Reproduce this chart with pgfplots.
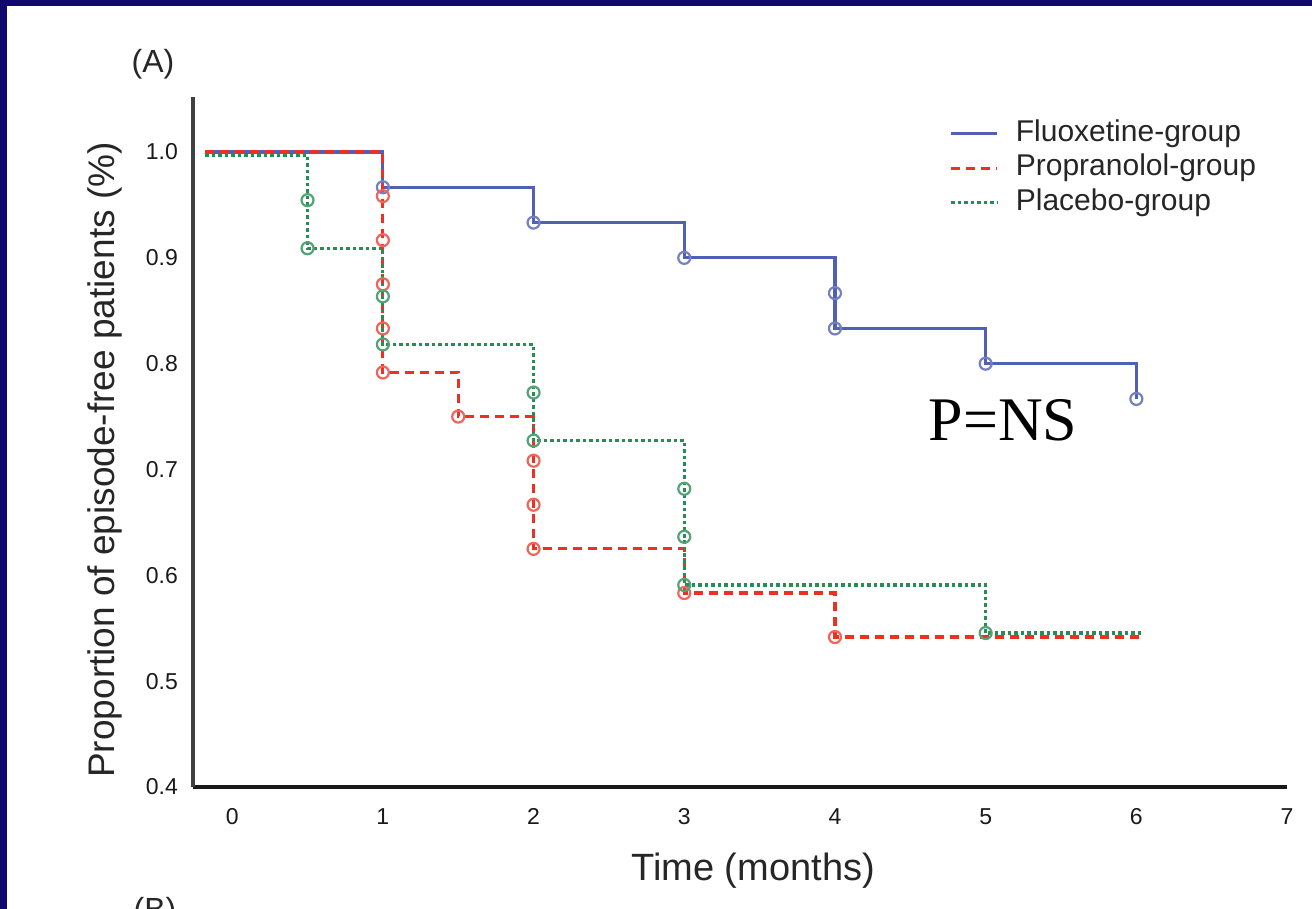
\documentclass[border=0pt]{standalone}
\usepackage{pgfplots}
\pgfplotsset{compat=1.18}
\usepackage{fontspec}
\setmainfont{Liberation Sans}
\newfontfamily\timesfont{Liberation Serif}
\definecolor{navy}{RGB}{17,8,110}
\definecolor{kmblue}{RGB}{80,96,178}
\definecolor{kmred}{RGB}{238,48,34}
\definecolor{kmgreen}{RGB}{40,140,85}
\begin{document}
\begin{tikzpicture}
\useasboundingbox (0bp,0bp) rectangle (1312bp,909bp);
\fill[navy] (0bp,0bp) rectangle (1312bp,909bp);
\fill[white] (7bp,0bp) rectangle (1312bp,903bp);
\begin{scope}
\clip (0bp,0bp) rectangle (1312bp,909bp);
\node[font=\fontsize{32bp}{38bp}\selectfont, text=black!85, inner sep=0pt] at (153bp,845bp) {(A)};
\node[font=\fontsize{32bp}{38bp}\selectfont, text=black!85, inner sep=0pt, anchor=north] at (155bp,12bp) {(B)};
\begin{axis}[
  at={(193bp,122bp)}, anchor=south west,
  scale only axis, width=1094bp, height=690bp,
  xmin=-0.26, xmax=7, ymin=0.4, ymax=1.052,
  axis x line*=bottom, axis y line*=left,
  x axis line style={line width=4bp, black!90, -},
  y axis line style={line width=4bp, black!75, -},
  major tick length=0pt,
  xtick={0,1,2,3,4,5,6,7},
  ytick={0.4,0.5,0.6,0.7,0.8,0.9,1.0},
  yticklabels={0.4,0.5,0.6,0.7,0.8,0.9,1.0},
  tick label style={font=\fontsize{23bp}{27bp}\selectfont, text=black!90},
  /pgf/number format/assume math mode=true,
  xticklabel style={anchor=north, inner sep=0pt, yshift=-21bp},
  yticklabel style={anchor=east, inner sep=0pt, xshift=-15bp},
  xlabel={Time (months)},
  ylabel={Proportion of episode-free patients (\%)},
  xlabel style={at={(axis description cs:0.512,-0.1348)}, anchor=base, font=\fontsize{38bp}{44bp}\selectfont, text=black!85},
  ylabel style={at={(axis description cs:-0.0804,0.474)}, anchor=center, font=\fontsize{37bp}{44bp}\selectfont, text=black!85},
  clip=false,
  legend style={at={(axis cs:4.74,1.033)}, anchor=north west, draw=none, fill=none,
    font=\fontsize{30bp}{34bp}\selectfont, text=black!85, row sep=5.5bp,
    nodes={inner sep=0pt, text height=22bp, text depth=7bp},
    /tikz/every odd column/.append style={column sep=17bp}},
  legend cell align=left,
  legend image code/.code={\draw[#1, sharp plot] (0bp,0bp) -- (46bp,0bp);},
]
% step lines
\addplot[kmblue, line width=3.2bp, const plot] coordinates {
(-0.18,1) (1,0.9667) (2,0.9333) (3,0.9) (4,0.8667) (4,0.8333) (5,0.8) (6,0.7667)};
\addlegendentry{Fluoxetine-group}
\addplot[kmred, line width=3.2bp, const plot, dash pattern=on 9bp off 6bp] coordinates {
(-0.18,1) (1,0.9583) (1,0.9167) (1,0.875) (1,0.8333) (1,0.7917) (1.5,0.75) (2,0.7083) (2,0.6667) (2,0.625) (3,0.5833) (4,0.5417) (6.05,0.5417)};
\addlegendentry{Propranolol-group}
\addplot[kmgreen, line width=3.2bp, const plot, dash pattern=on 3.5bp off 3bp] coordinates {
(-0.18,0.997) (0.5,0.9545) (0.5,0.9091) (1,0.8636) (1,0.8182) (2,0.7727) (2,0.7273) (3,0.6818) (3,0.6364) (3,0.5909) (5,0.5455) (6.05,0.5455)};
\addlegendentry{Placebo-group}
% event markers
\addplot[forget plot, only marks, mark=o, mark size=6bp, mark options={line width=2.2bp, draw=kmblue!80}] coordinates {
(1,0.9667) (2,0.9333) (3,0.9) (4,0.8667) (4,0.8333) (5,0.8) (6,0.7667)};
\addplot[forget plot, only marks, mark=o, mark size=6bp, mark options={line width=2.2bp, draw=kmred!75}] coordinates {
(1,0.9583) (1,0.9167) (1,0.875) (1,0.8333) (1,0.7917) (1.5,0.75) (2,0.7083) (2,0.6667) (2,0.625) (3,0.5833) (4,0.5417)};
\addplot[forget plot, only marks, mark=o, mark size=6bp, mark options={line width=2.2bp, draw=kmgreen!80}] coordinates {
(0.5,0.9545) (0.5,0.9091) (1,0.8636) (1,0.8182) (2,0.7727) (2,0.7273) (3,0.6818) (3,0.6364) (3,0.5909) (5,0.5455)};
\node[anchor=base west, inner sep=0pt, font=\timesfont\fontsize{62bp}{70bp}\selectfont] at (axis cs:4.62,0.727) {P=NS};
\end{axis}
\end{scope}
\end{tikzpicture}
\end{document}
